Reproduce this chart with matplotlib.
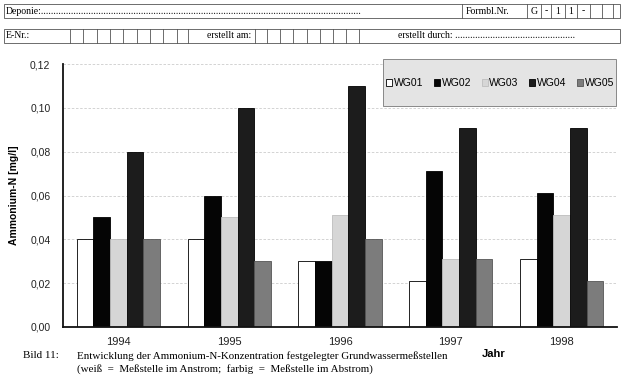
import numpy as np
import matplotlib
matplotlib.use("Agg")
import matplotlib.pyplot as plt
from matplotlib.patches import Rectangle

# -----------------------------
# DATEN
# -----------------------------
years = ["1994", "1995", "1996", "1997", "1998"]
stations = ["WG01", "WG02", "WG03", "WG04", "WG05"]
wg01 = [0.040, 0.040, 0.030, 0.021, 0.031]
wg02 = [0.050, 0.060, 0.030, 0.071, 0.061]
wg03 = [0.040, 0.050, 0.051, 0.031, 0.051]
wg04 = [0.080, 0.100, 0.110, 0.091, 0.091]
wg05 = [0.040, 0.030, 0.040, 0.031, 0.021]
series = [wg01, wg02, wg03, wg04, wg05]
y_ticks = [0.00, 0.02, 0.04, 0.06, 0.08, 0.10, 0.12]

colors = ["#ffffff", "#050505", "#d6d6d6", "#1c1c1c", "#7c7c7c"]
edges = ["#000000", "#000000", "#bdbdbd", "#000000", "#555555"]

sans = "Liberation Sans"
serif = "Liberation Serif"

fig = plt.figure(figsize=(6.25, 3.79), dpi=100)
fig.patch.set_facecolor("white")

# -----------------------------
# DIAGRAMM
# -----------------------------
ax = fig.add_axes([63 / 625, 1 - 327 / 379, (617 - 63) / 625, (327 - 64) / 379])
x = np.arange(len(years))
w = 0.15
bars = []
for i, vals in enumerate(series):
    b = ax.bar(x + (i - 2) * w, vals, width=w, color=colors[i],
               edgecolor=edges[i], linewidth=0.6, label=stations[i], zorder=2)
    bars.append(b)

ax.set_xlim(-0.5, len(years) - 0.5)
ax.set_ylim(0, 0.12)
ax.set_yticks(y_ticks)
ax.set_yticklabels([f"{v:.2f}".replace(".", ",") for v in y_ticks],
                   fontfamily=sans, fontsize=7.5, color="#222222")
ax.set_xticks(x)
ax.set_xticklabels(years, fontfamily=sans, fontsize=8, color="#222222")
ax.tick_params(axis="both", length=0)
ax.tick_params(axis="y", pad=9)
ax.tick_params(axis="x", pad=7)
ax.yaxis.grid(True, color="#cccccc", linestyle=(0, (3, 2)), linewidth=0.6, zorder=0)
ax.set_axisbelow(True)
for s in ["top", "right"]:
    ax.spines[s].set_visible(False)
for s in ["left", "bottom"]:
    ax.spines[s].set_linewidth(1.3)
    ax.spines[s].set_color("#111111")

ax.set_ylabel("Ammonium-N [mg/l]", fontfamily=sans, fontsize=7.5, fontweight="bold")
ax.yaxis.set_label_coords(-0.079, 0.5)

# -----------------------------
# UEBERLAGERUNG: Formularkopf, Legende, Beschriftung
# -----------------------------
ov = fig.add_axes([0, 0, 1, 1], zorder=5)
ov.set_xlim(0, 625)
ov.set_ylim(379, 0)
ov.axis("off")
ov.patch.set_alpha(0)

lw = 0.6
gc = "#555555"
# Zeile 1
ov.add_patch(Rectangle((4, 4), 616, 14, fill=False, lw=lw, ec=gc))
for xv in [462, 527, 541, 551, 565, 577, 590, 602, 613]:
    ov.plot([xv, xv], [4, 18], color=gc, lw=lw)
ov.text(6, 11, "Deponie:" + "." * 128, fontfamily=serif, fontsize=7, va="center")
ov.text(466, 11, "Formbl.Nr.", fontfamily=serif, fontsize=7, va="center")
for xc, t in zip([534, 546, 558, 571], ["G", "-", "1", "1"]):
    ov.text(xc, 11, t, fontfamily=serif, fontsize=7, va="center", ha="center")
ov.text(583.5, 11, "-", fontfamily=serif, fontsize=7, va="center", ha="center")

# Zeile 2
ov.add_patch(Rectangle((4, 29), 616, 14, fill=False, lw=lw, ec=gc))
for xv in [70, 83, 97, 110, 123, 137, 150, 163, 177, 188,
           255, 267, 280, 293, 307, 320, 333, 346, 359]:
    ov.plot([xv, xv], [29, 43], color=gc, lw=lw)
ov.text(6, 36, "E-Nr.:", fontfamily=serif, fontsize=7, va="center")
ov.text(251, 36, "erstellt am:", fontfamily=serif, fontsize=7, va="center", ha="right")
ov.text(398, 36, "erstellt durch: " + "." * 48, fontfamily=serif, fontsize=7, va="center")

# Legendenkasten
ov.add_patch(Rectangle((383, 59), 233, 47, facecolor="#e4e4e4", ec="#888888", lw=0.7))
leg = ov.legend(handles=bars, labels=stations, loc="center",
                bbox_to_anchor=(500 / 625, 1 - 83 / 379), bbox_transform=fig.transFigure,
                ncol=5, frameon=False, prop={"family": sans, "size": 7.5},
                handlelength=0.6, handleheight=0.6, handletextpad=0.15,
                columnspacing=1.0, borderpad=0)

# Achsentitel und Bildunterschrift
ov.text(494, 354, "Jahr", fontfamily=sans, fontsize=8, fontweight="bold",
        ha="center", va="center")
ov.text(23, 356, "Bild 11:", fontfamily=serif, fontsize=7.9, va="center")
ov.text(77, 356, "Entwicklung der Ammonium-N-Konzentration festgelegter Grundwassermeßstellen",
        fontfamily=serif, fontsize=7.9, va="center")
ov.text(77, 369, "(weiß  =  Meßstelle im Anstrom;  farbig  =  Meßstelle im Abstrom)",
        fontfamily=serif, fontsize=7.9, va="center")

fig.savefig("out.png", dpi=100)
